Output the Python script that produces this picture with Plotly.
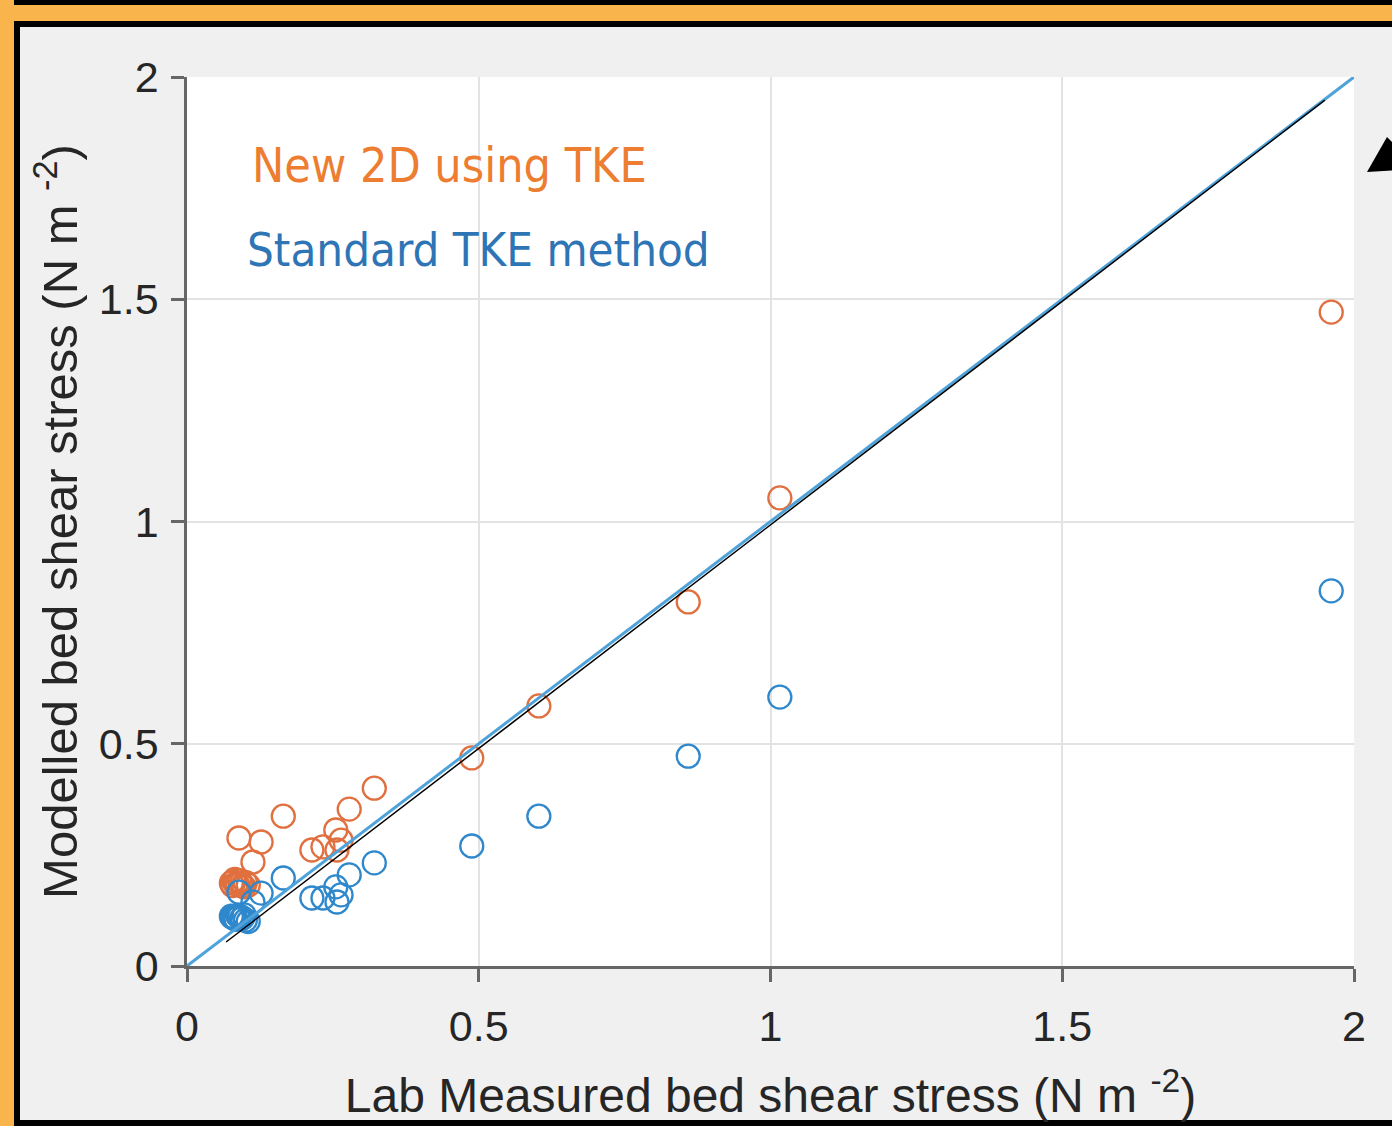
import plotly.graph_objects as go

# ---------------- data ----------------
measured = [1.961, 1.016, 0.859, 0.603, 0.488, 0.321, 0.278, 0.255, 0.264, 0.257,
            0.233, 0.214, 0.165, 0.127, 0.113, 0.089, 0.080, 0.084, 0.090, 0.095,
            0.100, 0.076, 0.105, 0.098, 0.082, 0.087, 0.093, 0.078]
new_2d_tke = [1.471, 1.053, 0.819, 0.585, 0.468, 0.400, 0.353, 0.306, 0.283, 0.261,
              0.268, 0.261, 0.337, 0.279, 0.234, 0.288, 0.190, 0.185, 0.192, 0.180,
              0.188, 0.187, 0.182, 0.178, 0.195, 0.183, 0.186, 0.181]
standard_tke = [0.844, 0.605, 0.472, 0.337, 0.270, 0.232, 0.205, 0.178, 0.160, 0.144,
                0.153, 0.153, 0.198, 0.164, 0.144, 0.166, 0.110, 0.105, 0.112, 0.108,
                0.103, 0.112, 0.100, 0.115, 0.107, 0.113, 0.106, 0.109]
one_to_one_x = [0, 2]
one_to_one_y = [0, 2]
fit_x = [0.067, 1.950]
fit_y = [0.054, 1.948]
tick_vals = [0, 0.5, 1, 1.5, 2]
tick_text = ["0", "0.5", "1", "1.5", "2"]

# ---------------- layout geometry ----------------
W, H = 1392, 1126
ML, MR, MT, MB = 187, 38, 77, 160
PW, PH = W - ML - MR, H - MT - MB


def px(p):
    return (p - ML) / PW


def py(p):
    return (H - MB - p) / PH


fig = go.Figure()

fig.add_trace(go.Scatter(
    x=measured, y=new_2d_tke, mode="markers", name="New 2D using TKE",
    marker=dict(symbol="circle-open", size=23, color="#E0703F",
                line=dict(width=2.3, color="#E0703F")),
))
fig.add_trace(go.Scatter(
    x=measured, y=standard_tke, mode="markers", name="Standard TKE method",
    marker=dict(symbol="circle-open", size=23, color="#2F88CC",
                line=dict(width=2.3, color="#2F88CC")),
))
fig.add_trace(go.Scatter(
    x=one_to_one_x, y=one_to_one_y, mode="lines",
    line=dict(color="#4FA3DA", width=3), hoverinfo="skip",
))
fig.add_trace(go.Scatter(
    x=fit_x, y=fit_y, mode="lines",
    line=dict(color="#000000", width=1.5), hoverinfo="skip",
))

shapes = [
    # gray panel with black border
    dict(type="rect", xref="paper", yref="paper", layer="below",
         x0=px(17), x1=px(1430), y0=py(24), y1=py(1123),
         fillcolor="#F0F0F0", line=dict(color="#000000", width=6)),
    # white plotting area
    dict(type="rect", xref="paper", yref="paper", layer="below",
         x0=0, x1=1, y0=0, y1=1,
         fillcolor="#FFFFFF", line=dict(width=0)),
    # black strip at top (edge of the panel above)
    dict(type="rect", xref="paper", yref="paper", layer="above",
         x0=px(14), x1=px(1430), y0=py(-10), y1=py(5),
         fillcolor="#000000", line=dict(width=0)),
    # partial arrow head at right
    dict(type="path", xref="paper", yref="paper", layer="above",
         path=f"M {px(1367)} {py(172)} L {px(1387)} {py(137)} L {px(1400)} {py(150)} L {px(1400)} {py(170)} Z",
         fillcolor="#000000", line=dict(width=0)),
]

annotations = [
    dict(x=0.108, y=1.802, xref="x", yref="y", xanchor="left", yanchor="middle",
         text="New 2D using TKE", showarrow=False,
         font=dict(family="DejaVu Sans Condensed, DejaVu Sans", size=48, color="#ED7D31")),
    dict(x=0.100, y=1.611, xref="x", yref="y", xanchor="left", yanchor="middle",
         text="Standard TKE method", showarrow=False,
         font=dict(family="DejaVu Sans Condensed, DejaVu Sans", size=47, color="#2E75B6")),
]

axis_common = dict(
    range=[0, 2], tickvals=tick_vals, ticktext=tick_text,
    showgrid=True, gridcolor="#E3E3E3", gridwidth=2,
    zeroline=False, showline=True, linecolor="#666666", linewidth=2.5,
    ticks="outside", ticklen=13, tickwidth=2.5, tickcolor="#666666",
    tickfont=dict(family="Liberation Sans, Arial", size=43, color="#262626"),
    mirror=False, fixedrange=True,
)

fig.update_layout(
    width=W, height=H,
    margin=dict(l=ML, r=MR, t=MT, b=MB, pad=0),
    paper_bgcolor="#F9B44C", plot_bgcolor="#FFFFFF",
    showlegend=False,
    shapes=shapes, annotations=annotations,
    xaxis=dict(**axis_common, ticklabelstandoff=8,
               title=dict(text="Lab Measured bed shear stress (N m <sup>-2</sup>)",
                          font=dict(family="Liberation Sans, Arial", size=48, color="#262626"),
                          standoff=30)),
    yaxis=dict(**axis_common, ticklabelstandoff=4,
               title=dict(text="Modelled bed shear stress (N m <sup>-2</sup>)",
                          font=dict(family="Liberation Sans, Arial", size=49, color="#262626"),
                          standoff=6)),
)

fig.write_html("out.html")
